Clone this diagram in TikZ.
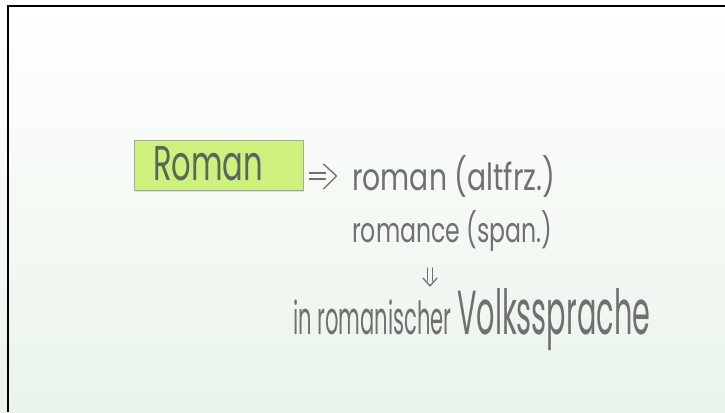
\documentclass[tikz,border=0pt]{standalone}
\usepackage{fontspec}
\setmainfont{Poppins}
\usetikzlibrary{shadows}
\definecolor{boxgreen}{RGB}{206,240,124}
\definecolor{ink}{RGB}{112,112,112}
\definecolor{boxink}{RGB}{90,102,92}
\definecolor{bgbottom}{RGB}{234,244,234}
\tikzset{
  handtext/.style={text=ink, inner sep=0pt, anchor=west},
  keybox/.style={draw=gray!70, line width=1pt, fill=boxgreen, minimum width=169pt, minimum height=50pt, inner sep=0pt,
    drop shadow={shadow xshift=1pt, shadow yshift=-2pt, fill=gray!40, opacity=0.6}},
  handline/.style={draw=ink, line width=1.3pt, line cap=round, line join=round}
}
\begin{document}
\begin{tikzpicture}[x=1pt,y=-1pt]
\useasboundingbox (0,0) rectangle (725,412);
\shade[top color=white, bottom color=bgbottom] (0,0) rectangle (725,412);
\draw[line width=2.5pt] (8,412) -- (8,6) -- (725,6);
\node[keybox] (box) at (218.5,165) {};
\node[handtext, text=boxink] (roman) at (153,164) {\resizebox{110pt}{34pt}{\fontsize{30}{30}\selectfont Roman}};
\node[handtext] (altfrz) at (352,176) {\resizebox{203pt}{35pt}{\fontsize{24}{24}\selectfont roman (altfrz.)}};
\node[handtext] (span) at (352,231) {\resizebox{200pt}{32pt}{\fontsize{24}{24}\selectfont romance (span.)}};
\node[handtext] (volk) at (293,320) {\resizebox{357pt}{46pt}{\fontsize{22}{22}\selectfont in romanischer {\fontsize{30}{30}\selectfont Volkssprache}}};
% implication arrow from the box to the old French form
\coordinate (r1) at ([xshift=6pt]box.east |- altfrz.west);
\draw[handline] (r1) ++(0,-3) -- ++(16,0);
\draw[handline] (r1) ++(0,3) -- ++(16,0);
\draw[handline] (r1) ++(14,-12) -- ++(13,12) -- ++(-13,13);
% implication arrow down to the final line
\coordinate (d1) at (430,268);
\draw[handline] (d1) ++(-2.5,0) -- ++(0,13);
\draw[handline] (d1) ++(2.5,0) -- ++(0,13);
\draw[handline] (d1) ++(-7,10) -- ++(7,8) -- ++(7,-8);
\end{tikzpicture}
\end{document}
